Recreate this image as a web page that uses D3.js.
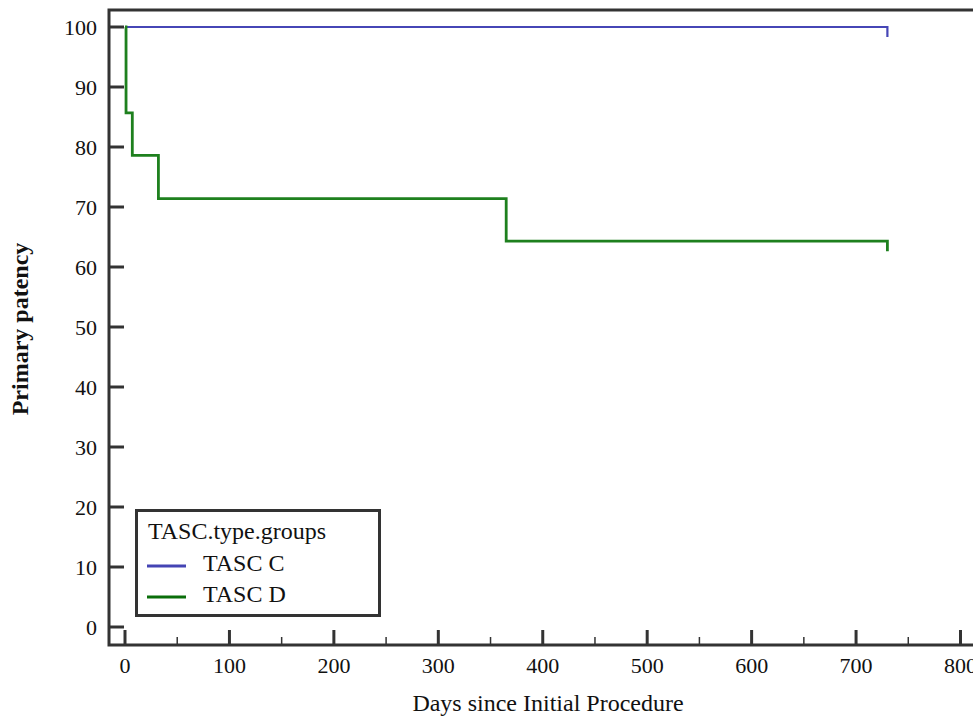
<!DOCTYPE html>
<html><head><meta charset="utf-8">
<script src="https://cdn.jsdelivr.net/npm/d3@7"></script>
<style>body{margin:0;background:#fff}svg{display:block}text{font-family:"Liberation Serif","DejaVu Serif",serif}</style>
</head><body><div id="c"></div>
<script>
const groups = ["TASC C", "TASC D"];
const colors = ["#4646b6", "#1e801e"];
const legendColors = ["#4444b4", "#0a6e0a"];
const tascCDays = [0, 730];
const tascCSurv = [100, 100];
const tascDDays = [0, 1, 7, 32, 365, 730];
const tascDSurv = [100, 85.7, 78.6, 71.4, 64.3, 64.3];
const xTicks = [0,100,200,300,400,500,600,700,800];
const yTicks = [0,10,20,30,40,50,60,70,80,90,100];
const legendTitle = "TASC.type.groups";
const xLabel = "Days since Initial Procedure";
const yLabel = "Primary patency";

(function(){
const W = 973, H = 718;
const svg = d3.select("#c").append("svg").attr("width", W).attr("height", H);
const x = d3.scaleLinear().domain([0, 800]).range([125, 960.5]);
const y = d3.scaleLinear().domain([0, 100]).range([627, 27]);
const pLeft = 109, pTop = 10, pBottom = 645;

svg.append("path").attr("d", `M${W},${pTop}H${pLeft}V${pBottom}H${W}`)
  .attr("fill","none").attr("stroke","#333").attr("stroke-width",3);

svg.append("g").selectAll("line").data(yTicks).join("line")
  .attr("x1", pLeft).attr("x2", pLeft+15).attr("y1", d=>y(d)).attr("y2", d=>y(d))
  .attr("stroke","#333").attr("stroke-width",3);
svg.append("g").selectAll("text").data(yTicks).join("text")
  .attr("x", 97).attr("y", d=>y(d)+7.5).attr("text-anchor","end")
  .attr("font-size",22).attr("fill","#111").text(d=>d);

svg.append("g").selectAll("line").data(xTicks).join("line")
  .attr("x1", d=>x(d)).attr("x2", d=>x(d)).attr("y1", pBottom).attr("y2", pBottom-15)
  .attr("stroke","#333").attr("stroke-width",3);
const minor = d3.range(50, 800, 100);
svg.append("g").selectAll("line").data(minor).join("line")
  .attr("x1", d=>x(d)).attr("x2", d=>x(d)).attr("y1", pBottom).attr("y2", pBottom-8)
  .attr("stroke","#333").attr("stroke-width",1.5);
svg.append("g").selectAll("text").data(xTicks).join("text")
  .attr("x", d=>x(d)).attr("y", 673).attr("text-anchor","middle")
  .attr("font-size",22).attr("fill","#111").text(d=>d);

svg.append("text").attr("x", 548).attr("y", 711).attr("text-anchor","middle")
  .attr("font-size",24).attr("fill","#111").text(xLabel);
svg.append("text").attr("transform","translate(28,329) rotate(-90)").attr("text-anchor","middle")
  .attr("font-size",24).attr("font-weight","bold").attr("fill","#111").text(yLabel);

function stepPath(days, surv) {
  const pts = days.map((d,i)=>[x(d), y(surv[i])]);
  const line = d3.line().curve(d3.curveStepAfter);
  const end = pts[pts.length-1];
  return line(pts) + `V${end[1]+10}`;
}
svg.append("path").attr("d", stepPath(tascCDays, tascCSurv)).attr("fill","none")
  .attr("stroke", colors[0]).attr("stroke-width",2.2);
svg.append("path").attr("d", stepPath(tascDDays, tascDSurv)).attr("fill","none")
  .attr("stroke", colors[1]).attr("stroke-width",2.8);

const lg = svg.append("g");
lg.append("rect").attr("x",136.5).attr("y",510.5).attr("width",243).attr("height",105)
  .attr("fill","#fff").attr("stroke","#333").attr("stroke-width",3);
lg.append("text").attr("x",148).attr("y",539).attr("font-size",24).attr("fill","#111").text(legendTitle);
groups.forEach((g,i)=>{
  const yy = 566 + i*31;
  lg.append("line").attr("x1",147).attr("x2",186).attr("y1",yy).attr("y2",yy)
    .attr("stroke", legendColors[i]).attr("stroke-width",3);
  lg.append("text").attr("x",203).attr("y",yy+5).attr("font-size",24).attr("fill","#111").text(g);
});
})();
</script></body></html>
